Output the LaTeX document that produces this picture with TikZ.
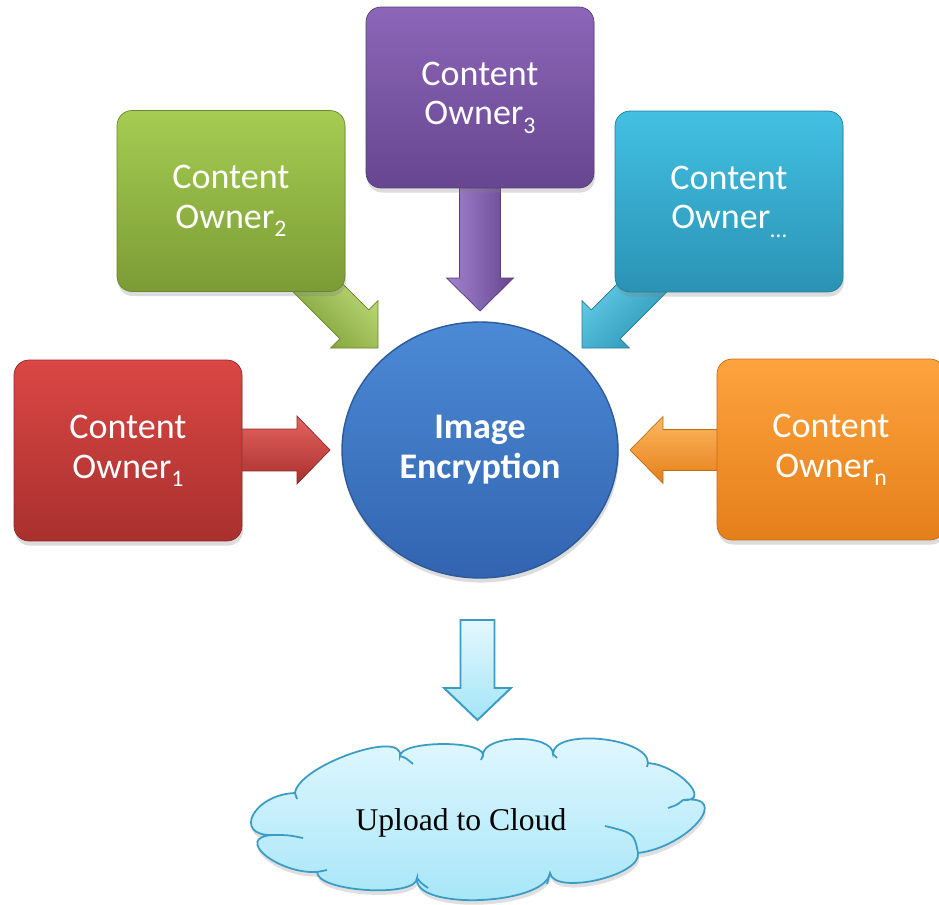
\documentclass[tikz,border=0pt]{standalone}
\usepackage{fontspec}
\setmainfont{Carlito}
\newfontfamily\cloudfont{Liberation Serif}
\usetikzlibrary{calc,shapes.geometric,shadows}

% box colours (top / bottom of the gradient)
\definecolor{redT}{HTML}{DA4744}\definecolor{redB}{HTML}{A9302E}
\definecolor{grnT}{HTML}{A6CC52}\definecolor{grnB}{HTML}{7B9C35}
\definecolor{purT}{HTML}{8C66B8}\definecolor{purB}{HTML}{674690}
\definecolor{cyaT}{HTML}{42C0E2}\definecolor{cyaB}{HTML}{2A93B5}
\definecolor{orgT}{HTML}{FDA33E}\definecolor{orgB}{HTML}{E57F1A}
\definecolor{bluT}{HTML}{4C8AD6}\definecolor{bluB}{HTML}{3264B0}
\definecolor{bluE}{HTML}{2C5A9A}
\definecolor{skyT}{HTML}{E3F8FE}\definecolor{skyB}{HTML}{A4E5F8}
\definecolor{skyE}{HTML}{3A9CC4}
\definecolor{redL}{HTML}{E4635F}\definecolor{grnL}{HTML}{C4E27F}
\definecolor{purL}{HTML}{A283CF}\definecolor{cyaL}{HTML}{6AD2EC}
\definecolor{orgL}{HTML}{FDB860}

\newcommand\subtxt[1]{\raisebox{-4.7pt}{\fontsize{13.5}{13.5}\selectfont #1}}

% block arrow from tail #2 to tip #3: shaft half width #4, head half width #5, head length #6
\newcommand\blockarrow[6]{%
  \path[#1] let \p1=(#2), \p2=(#3), \n1={atan2(\y2-\y1,\x2-\x1)},
      \n2={\n1+90}, \n3={\n1-90}, \n4={\n1+180} in
    ($(\p1)+(\n2:#4)$) -- ($(\p2)+(\n4:#6)+(\n2:#4)$) -- ($(\p2)+(\n4:#6)+(\n2:#5)$)
    -- (\p2) -- ($(\p2)+(\n4:#6)+(\n3:#5)$) -- ($(\p2)+(\n4:#6)+(\n3:#4)$)
    -- ($(\p1)+(\n3:#4)$) -- cycle;}

\tikzset{
  ownerbox/.style 2 args={rectangle, rounded corners=0.3cm,
    minimum width=4.56cm, minimum height=3.62cm, inner sep=0pt,
    top color=#1, bottom color=#2, draw=#2!85!black, line width=0.4pt,
    text=white, align=center, font=\fontsize{20.5}{22.7}\selectfont,
    drop shadow={opacity=0.28, shadow xshift=0.6pt, shadow yshift=-2.6pt}},
  encbox/.style={ellipse, minimum width=5.52cm, minimum height=5.12cm, inner sep=0pt,
    top color=bluT, bottom color=bluB, draw=bluE, line width=0.8pt,
    text=white, align=center, font=\bfseries\fontsize{20.5}{22.7}\selectfont,
    drop shadow={opacity=0.28, shadow xshift=0.6pt, shadow yshift=-2.6pt}},
  feed/.style n args={3}{top color=#1, bottom color=#2, shading angle=#3,
    draw=#2!85!black, line width=0.4pt},
  cloudarrow/.style={top color=skyT, bottom color=skyB, draw=skyE, line width=1.1pt,
    line join=miter},
  cloudbody/.style={top color=skyT, bottom color=skyB, draw=skyE, line width=1pt,
    drop shadow={opacity=0.25, shadow xshift=0.6pt, shadow yshift=-2.6pt}},
  cloudfold/.style={draw=skyE, line width=1pt},
}

\begin{document}
\begin{tikzpicture}[x=0.02cm,y=-0.02cm]
\useasboundingbox (0,0) rectangle (939,905);

% tails (hidden under the boxes) and tips of the feeding arrows
\coordinate (t1) at (200,450);  \coordinate (h1) at (330,450);
\coordinate (t2) at (300,270);  \coordinate (h2) at (378,348);
\coordinate (t3) at (480,150);  \coordinate (h3) at (480,311);
\coordinate (t4) at (660,270);  \coordinate (h4) at (582,348);
\coordinate (t5) at (760,450);  \coordinate (h5) at (630,450);

\blockarrow{feed={redL}{redB}{0}}{t1}{h1}{0.42cm}{0.68cm}{0.66cm}
\blockarrow{feed={grnL}{grnB}{-45}}{t2}{h2}{0.41cm}{0.67cm}{0.67cm}
\blockarrow{feed={purL}{purB}{90}}{t3}{h3}{0.41cm}{0.67cm}{0.66cm}
\blockarrow{feed={cyaL}{cyaB}{45}}{t4}{h4}{0.41cm}{0.67cm}{0.67cm}
\blockarrow{feed={orgL}{orgB}{0}}{t5}{h5}{0.41cm}{0.67cm}{0.66cm}

% content owners
\node[ownerbox={redT}{redB}] (o1) at (128,450.5) {Content\\Owner\subtxt{1}};
\node[ownerbox={grnT}{grnB}] (o2) at (231,201) {Content\\Owner\subtxt{2}};
\node[ownerbox={purT}{purB}] (o3) at (480,97.5) {Content\\Owner\subtxt{3}};
\node[ownerbox={cyaT}{cyaB}] (o4) at (729,201.5) {Content\\Owner\subtxt{\dots}};
\node[ownerbox={orgT}{orgB}] (o5) at (831,449.5) {Content\\Owner\subtxt{n}};

% encryption stage
\node[encbox] (enc) at (480,450) {Image\\Encryption};

% upload arrow
\coordinate (ut) at (477.5,620);
\coordinate (uh) at (477.5,720);
\blockarrow{cloudarrow}{ut}{uh}{0.34cm}{0.67cm}{0.64cm}

% cloud outline
\path[cloudbody] (295,793)
  .. controls (298.3,765.7) and (403.3,728.7) .. (400,756)
  .. controls (400,740.7) and (483,739.7) .. (483,755)
  .. controls (483,734.3) and (553,733.3) .. (553,754)
  .. controls (553,728) and (648,737) .. (648,763)
  .. controls (678,765) and (713,802) .. (683,800)
  .. controls (733,794) and (688,847) .. (638,853)
  .. controls (642,875.7) and (554,895.7) .. (550,873)
  .. controls (545.3,905.7) and (412.3,910.7) .. (417,878)
  .. controls (417,898) and (317,892) .. (317,872)
  .. controls (277,874) and (233,837) .. (273,835)
  .. controls (231.7,836.3) and (253.7,794.3) .. (295,793) -- cycle;

% inner folds of the cloud
\draw[cloudfold] (400,756) .. controls (406,758) .. (413,764);
\draw[cloudfold] (483,755) -- (481,760);
\draw[cloudfold] (553,754) -- (557,758);
\draw[cloudfold] (648,763) -- (647,767);
\draw[cloudfold] (683,800) .. controls (677,805) .. (668,808);
\draw[cloudfold] (638,853) .. controls (634,833) .. (605,826);
\draw[cloudfold] (550,873) .. controls (549,878) .. (547,884);
\draw[cloudfold] (417,878) .. controls (421,883) .. (428,888);
\draw[cloudfold] (317,872) -- (327,870);
\draw[cloudfold] (273,835) .. controls (288,835) .. (303,838);
\draw[cloudfold] (295,793) -- (297,799);

\node[font=\cloudfont\fontsize{18}{20}\selectfont, text=black] (cloud) at (461,823) {Upload to Cloud};
\end{tikzpicture}
\end{document}
